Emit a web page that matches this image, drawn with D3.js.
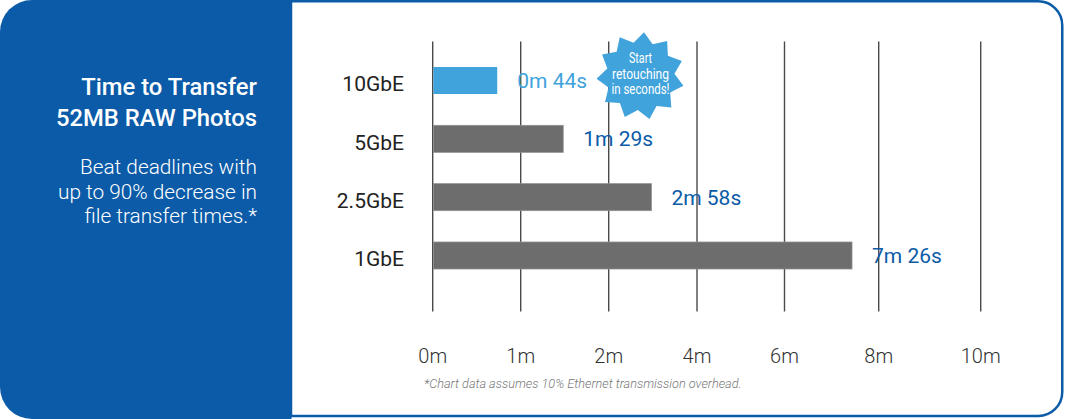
<!DOCTYPE html>
<html>
<head>
<meta charset="utf-8">
<script src="https://cdn.jsdelivr.net/npm/d3@7"></script>
<style>
  html, body { margin: 0; padding: 0; background: #ffffff; }
  svg { display: block; font-family: Roboto, "Noto Sans", sans-serif; }
</style>
</head>
<body>
<svg id="chart" width="1066" height="419"></svg>
<script>
// ---- data ----
const categories = ["10GbE", "5GbE", "2.5GbE", "1GbE"];
const seconds = [44, 89, 178, 446];
const valueLabels = ["0m 44s", "1m 29s", "2m 58s", "7m 26s"];
const tickValues = [0, 1, 2, 4, 6, 8, 10];
const tickLabels = ["0m", "1m", "2m", "4m", "6m", "8m", "10m"];
const titleLines = ["Time to Transfer", "52MB RAW Photos"];
const subtitleLines = ["Beat deadlines with", "up to 90% decrease in", "file transfer times.*"];
const starLines = ["Start", "retouching", "in seconds!"];
const footnote = "*Chart data assumes 10% Ethernet transmission overhead.";

// ---- style ----
const BLUE = "#0b5ba8";
const LIGHT = "#41a3dc";
const BAR = "#6d6d6d";

const svg = d3.select("#chart");

// panel with blue border (right corners rounded)
const r = 24;
svg.append("path")
  .attr("d", `M291,1.25 H${1062.25 - r} A${r},${r} 0 0 1 1062.25,${1.25 + r} V${416 - r} A${r},${r} 0 0 1 ${1062.25 - r},416 H291 Z`)
  .attr("fill", "#ffffff")
  .attr("stroke", BLUE)
  .attr("stroke-width", 2.5);

// left blue panel, rounded on the left
const lr = 32;
svg.append("path")
  .attr("d", `M${lr},0 H291.5 V419 H${lr} A${lr},${lr} 0 0 1 0,${419 - lr} V${lr} A${lr},${lr} 0 0 1 ${lr},0 Z`)
  .attr("fill", BLUE);

// left texts
svg.append("g").selectAll("text").data(titleLines).join("text")
  .attr("x", 257).attr("y", (d, i) => 95 + i * 30.7)
  .attr("text-anchor", "end").attr("fill", "#ffffff")
  .attr("font-size", 23.8).attr("font-weight", 500)
  .text(d => d);

svg.append("g").selectAll("text").data(subtitleLines).join("text")
  .attr("x", 257).attr("y", (d, i) => 174 + i * 24.7)
  .attr("text-anchor", "end").attr("fill", "#ffffff")
  .attr("font-size", 20.8).attr("font-weight", 300)
  .text(d => d);

// ---- scales ----
const x = d3.scaleLinear()
  .domain(tickValues)
  .range([432.7, 520.7, 608.7, 697, 784.5, 878.7, 980.7]);

const y = d3.scalePoint()
  .domain(categories)
  .range([80.5, 255.5]);

const barH = 27;

// gridlines
svg.append("g").selectAll("line").data(tickValues).join("line")
  .attr("x1", d => x(d)).attr("x2", d => x(d))
  .attr("y1", 41.5).attr("y2", 311.5)
  .attr("stroke", "#4a4a4a").attr("stroke-width", 1.4);

// bars
const rows = categories.map((c, i) => ({ c, s: seconds[i], label: valueLabels[i], i }));
svg.append("g").selectAll("rect").data(rows).join("rect")
  .attr("x", x(0) + 0.7)
  .attr("y", d => y(d.c) - barH / 2)
  .attr("width", d => x(d.s / 60) - x(0) - 0.7)
  .attr("height", barH)
  .attr("fill", d => d.i === 0 ? LIGHT : BAR)
  .attr("stroke", d => d.i === 0 ? "none" : "#8f8f8f")
  .attr("stroke-width", 0.8);

// category labels
svg.append("g").selectAll("text").data(rows).join("text")
  .attr("x", 404).attr("y", d => y(d.c) + 10.8)
  .attr("text-anchor", "end").attr("fill", "#222222")
  .attr("font-size", 21)
  .text(d => d.c);

// value labels
svg.append("g").selectAll("text").data(rows).join("text")
  .attr("x", d => x(d.s / 60) + 20)
  .attr("y", d => y(d.c) + 7.5)
  .attr("fill", d => d.i === 0 ? LIGHT : BLUE)
  .attr("font-size", 21)
  .text(d => d.label);

// axis labels
svg.append("g").selectAll("text").data(tickValues).join("text")
  .attr("x", d => x(d)).attr("y", 363)
  .attr("text-anchor", "middle").attr("fill", "#333333")
  .attr("font-size", 20).attr("font-weight", 300)
  .text((d, i) => tickLabels[i]);

// footnote
svg.append("text")
  .attr("x", 424).attr("y", 388)
  .attr("fill", "#777777").attr("font-size", 12.7)
  .attr("font-style", "italic").attr("font-weight", 300)
  .text(footnote);

// starburst badge
const cx = 640.5, cy = 76, outerR = 44, innerR = 34, nPts = 11;
const starPts = d3.range(nPts * 2).map(k => {
  const a = -Math.PI / 2 + 0.08 + k * Math.PI / nPts;
  const rr = k % 2 === 0 ? outerR : innerR;
  return [cx + rr * Math.cos(a), cy + rr * Math.sin(a)];
});
svg.append("path")
  .attr("d", d3.line()(starPts) + "Z")
  .attr("fill", LIGHT);

const starWidths = [23, 57, 58];
svg.append("g").selectAll("text").data(starLines).join("text")
  .attr("x", cx).attr("y", (d, i) => 63.3 + i * 15.5)
  .attr("text-anchor", "middle").attr("fill", "#ffffff")
  .attr("font-size", 14.5)
  .attr("textLength", (d, i) => starWidths[i])
  .attr("lengthAdjust", "spacingAndGlyphs")
  .text(d => d);
</script>
</body>
</html>
